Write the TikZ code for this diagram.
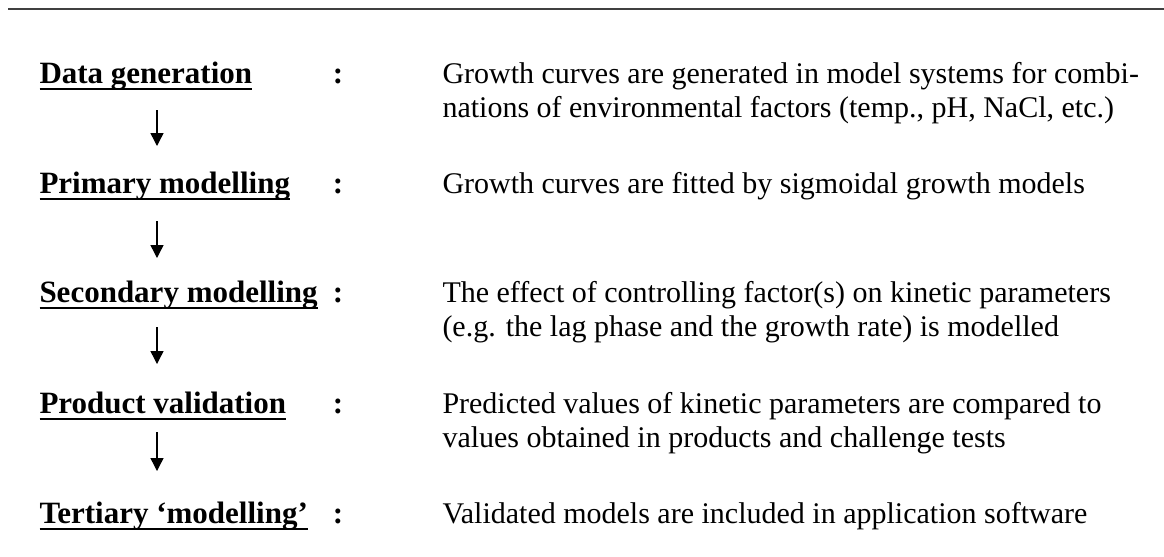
\documentclass[tikz,border=0pt]{standalone}
\usepackage{fontspec}
\setmainfont{Liberation Serif}
\usetikzlibrary{arrows.meta}
\newcommand{\bodysize}{\fontsize{12}{13.8}\selectfont}
\newcommand{\stagesize}{\fontsize{12.4}{13.8}\selectfont}
\newcommand{\ulbl}[1]{\setbox0\hbox{#1}\rlap{\rule[-2.8pt]{\wd0}{0.8pt}}\box0}
\newcommand{\twolines}[2]{\vtop{\hbox{#1}\hbox{#2}}}
\tikzstyle{stage} = [anchor=base west, inner sep=0pt, font=\stagesize\bfseries]
\tikzstyle{sepcolon} = [anchor=base, inner sep=0pt, font=\stagesize\bfseries]
\tikzstyle{desc} = [anchor=base west, inner sep=0pt, font=\bodysize]
\tikzstyle{arrow} = [line width=0.55pt, -{Triangle[width=5.2pt,length=5.2pt]}]
\tikzstyle{topline} = [line width=1pt, draw=black!75]

\begin{document}
\begin{tikzpicture}[x=0.4pt, y=-0.4pt]
\useasboundingbox (0,0) rectangle (1164,556);

\draw [topline] (8,9) -- (1164,9);

% stages on the left
\coordinate (ax) at (157,0);
\node (dg) [stage] at (39,83) {\ulbl{Data generation}};
\node (pm) [stage] at (39,193) {\ulbl{Primary modelling}};
\node (sm) [stage] at (39,302) {\ulbl{Secondary modelling}};
\node (pv) [stage] at (39,413) {\ulbl{Product validation}};
\node (tm) [stage] at (39,523) {\ulbl{Tertiary ‘modelling’}};

\node (dgcol) [sepcolon] at (338,83) {:};
\node (pmcol) [sepcolon] at (338,193) {:};
\node (smcol) [sepcolon] at (338,302) {:};
\node (pvcol) [sepcolon] at (338,413) {:};
\node (tmcol) [sepcolon] at (338,523) {:};

% descriptions
\node (dgtxt) [desc] at (442,83) {\twolines{Growth curves are generated in model systems for combi-}{nations of environmental factors (temp., pH, NaCl, etc.)}};
\node (pmtxt) [desc] at (442,193) {Growth curves are fitted by sigmoidal growth models};
\node (smtxt) [desc] at (442,302) {\twolines{The effect of controlling factor(s) on kinetic parameters}{(e.g. the lag phase and the growth rate) is modelled}};
\node (pvtxt) [desc] at (442,413) {\twolines{Predicted values of kinetic parameters are compared to}{values obtained in products and challenge tests}};
\node (tmtxt) [desc] at (442,523) {Validated models are included in application software};

\draw [arrow, shorten <=10.8pt, shorten >=18.8pt] (dg.base -| ax) -- (pm.base -| ax);
\draw [arrow, shorten <=11.2pt, shorten >=17.6pt] (pm.base -| ax) -- (sm.base -| ax);
\draw [arrow, shorten <=10pt, shorten >=19.6pt] (sm.base -| ax) -- (pv.base -| ax);
\draw [arrow, shorten <=7.6pt, shorten >=20.8pt] (pv.base -| ax) -- (tm.base -| ax);
\end{tikzpicture}
\end{document}
